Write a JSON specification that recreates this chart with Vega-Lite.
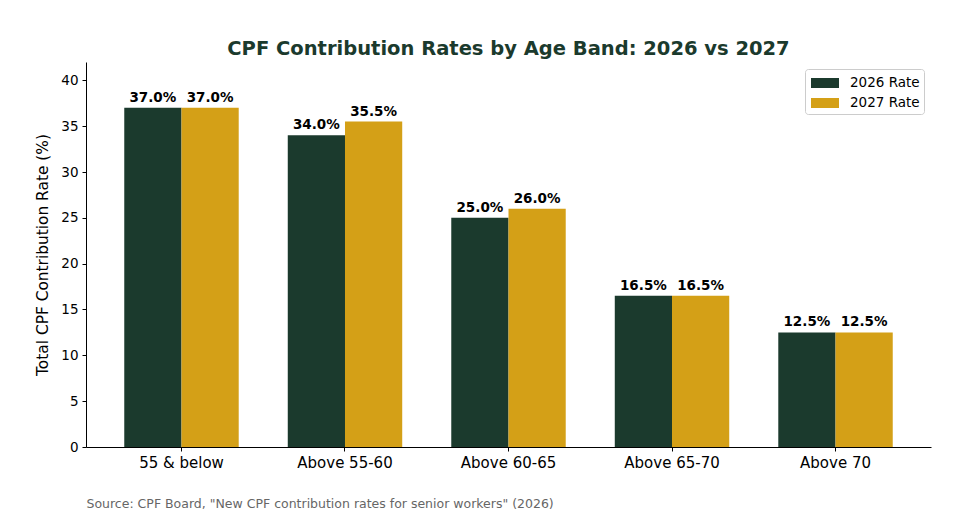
{
  "$schema": "https://vega.github.io/schema/vega-lite/v6.json",
  "width": 845,
  "height": 385,
  "autosize": {"type": "none"},
  "padding": {"left": 86, "top": 62, "right": 29, "bottom": 73},
  "background": "white",
  "config": {
    "font": "DejaVu Sans",
    "view": {"stroke": null},
    "axis": {"grid": false, "domainColor": "black", "tickColor": "black", "labelColor": "black", "titleColor": "black", "titleFontWeight": "normal"}
  },
  "title": {
    "text": "CPF Contribution Rates by Age Band: 2026 vs 2027",
    "fontSize": 19.5,
    "fontWeight": "bold",
    "color": "#1b3a2d",
    "anchor": "middle",
    "offset": 3
  },
  "data": {
    "values": [
      {"band": "55 & below", "series": "2026 Rate", "rate": 37.0},
      {"band": "55 & below", "series": "2027 Rate", "rate": 37.0},
      {"band": "Above 55-60", "series": "2026 Rate", "rate": 34.0},
      {"band": "Above 55-60", "series": "2027 Rate", "rate": 35.5},
      {"band": "Above 60-65", "series": "2026 Rate", "rate": 25.0},
      {"band": "Above 60-65", "series": "2027 Rate", "rate": 26.0},
      {"band": "Above 65-70", "series": "2026 Rate", "rate": 16.5},
      {"band": "Above 65-70", "series": "2027 Rate", "rate": 16.5},
      {"band": "Above 70", "series": "2026 Rate", "rate": 12.5},
      {"band": "Above 70", "series": "2027 Rate", "rate": 12.5}
    ]
  },
  "transform": [
    {"calculate": "format(datum.rate, '.1f') + '%'", "as": "label"}
  ],
  "encoding": {
    "x": {
      "field": "band",
      "type": "nominal",
      "sort": null,
      "scale": {"paddingInner": 0.3, "paddingOuter": 0.234},
      "axis": {
        "labelAngle": 0,
        "labelFontSize": 15,
        "labelPadding": 4,
        "tickSize": 4,
        "title": "Source: CPF Board, \"New CPF contribution rates for senior workers\" (2026)",
        "titleAnchor": "start",
        "titleAlign": "left",
        "titleFontSize": 12.5,
        "titleColor": "#666666",
        "titlePadding": 27
      }
    },
    "xOffset": {"field": "series", "type": "nominal", "scale": {"paddingInner": 0, "paddingOuter": 0}},
    "y": {
      "field": "rate",
      "type": "quantitative",
      "scale": {"domain": [0, 42], "nice": false},
      "axis": {
        "values": [0, 5, 10, 15, 20, 25, 30, 35, 40],
        "title": "Total CPF Contribution Rate (%)",
        "titleFontSize": 15.4,
        "titlePadding": 10,
        "labelFontSize": 13.5,
        "labelPadding": 4,
        "tickSize": 4
      }
    }
  },
  "layer": [
    {
      "mark": {"type": "bar"},
      "encoding": {
        "color": {
          "field": "series",
          "type": "nominal",
          "scale": {"domain": ["2026 Rate", "2027 Rate"], "range": ["#1b3a2d", "#d4a017"]},
          "legend": {
            "title": null,
            "orient": "top-right",
            "offset": 7,
            "labelFontSize": 13.5,
            "labelColor": "black",
            "labelOffset": 21,
            "symbolType": "M-0.8,-0.5H2V0.5H-0.8Z",
            "symbolSize": 400,
            "symbolStrokeWidth": 0,
            "symbolOpacity": 1,
            "fillColor": "white",
            "strokeColor": "#cccccc",
            "cornerRadius": 3,
            "padding": 4,
            "rowPadding": 3
          }
        }
      }
    },
    {
      "mark": {"type": "text", "baseline": "bottom", "dy": -3, "fontSize": 13.5, "fontWeight": "bold", "color": "black"},
      "encoding": {
        "text": {"field": "label", "type": "nominal"}
      }
    }
  ]
}
